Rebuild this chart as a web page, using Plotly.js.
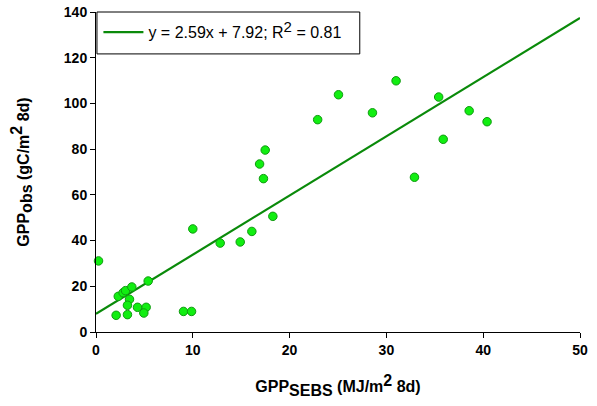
<!DOCTYPE html>
<html>
<head>
<meta charset="utf-8">
<script src="https://cdn.plot.ly/plotly-3.0.1.min.js"></script>
<style>html,body{margin:0;padding:0;background:#fff;}#chart{width:597px;height:406px;}</style>
</head>
<body>
<div id="chart"></div>
<script>
const gppSEBS = [0.26, 2.3, 2.8, 3.05, 3.7, 3.46, 3.25, 2.08, 3.25, 4.29, 5.18, 4.94, 5.39, 9.04, 9.87,
  12.83, 14.9, 17.48, 16.9, 17.3, 10.0, 16.1, 18.27, 22.9, 25.05, 28.56, 31.0, 35.4, 38.55, 40.4, 35.87, 32.9];
const gppObs = [31.1, 15.6, 17.2, 18.1, 19.7, 14.3, 11.7, 7.3, 7.6, 10.8, 10.8, 8.3, 22.3, 9.0, 9.0,
  38.9, 39.4, 79.6, 73.5, 67.1, 45.1, 44.0, 50.6, 92.9, 103.8, 95.9, 109.9, 102.8, 96.8, 92.0, 84.3, 67.7];

// Regression line parameters (from the legend)
const slope = 2.59;
const intercept = 7.92;
const r2 = 0.81;
const xRange = [0, 50];
const yRange = [0, 140];
const xTicks = [0, 10, 20, 30, 40, 50];
const yTicks = [0, 20, 40, 60, 80, 100, 120, 140];

const fitX = xRange.slice();
const fitY = fitX.map(x => slope * x + intercept);

const big = (s, n) => '<span style="font-size:' + n + 'px">' + s + '</span>';

const traces = [
  {
    x: fitX, y: fitY, mode: 'lines', type: 'scatter',
    line: {color: '#0a8a0a', width: 2.2},
    name: 'y = ' + slope.toFixed(2) + 'x + ' + intercept.toFixed(2) + '; R<sup>' + big('2', 15) + '</sup> = ' + r2.toFixed(2),
    showlegend: true, hoverinfo: 'skip'
  },
  {
    x: gppSEBS, y: gppObs, mode: 'markers', type: 'scatter',
    marker: {color: '#11ee11', size: 8.5, line: {color: '#109a10', width: 1}},
    showlegend: false, cliponaxis: false
  }
];

const fontFam = 'Liberation Sans, Arial, sans-serif';
const layout = {
  width: 597, height: 406,
  margin: {l: 96, r: 17, t: 12, b: 74},
  paper_bgcolor: '#fff', plot_bgcolor: '#fff',
  font: {family: fontFam, color: '#000'},
  showlegend: true,
  legend: {
    x: 0.005, y: 0.99, xanchor: 'left', yanchor: 'top',
    bgcolor: 'rgba(0,0,0,0)', borderwidth: 0,
    font: {family: fontFam, size: 16, color: '#000'},
    itemwidth: 40,
    valign: 'middle'
  },
  shapes: [{
    type: 'rect', xref: 'paper', yref: 'paper',
    x0: 0.002, x1: 0.545, y0: 0.869, y1: 1.0,
    line: {color: '#000', width: 1}, fillcolor: 'rgba(0,0,0,0)', layer: 'above'
  }],
  xaxis: {
    range: xRange, tickvals: xTicks, ticktext: xTicks.map(String),
    showgrid: false, zeroline: false, showline: true, linecolor: '#000', linewidth: 1,
    ticks: 'outside', ticklen: 5, tickcolor: '#000',
    tickfont: {family: fontFam, size: 14, color: '#000', weight: 'bold'},
    title: {text: '<b>GPP<sub>' + big('SEBS', 16) + '</sub> (MJ/m<sup>' + big('2', 16) + '</sup> 8d)</b>', font: {family: fontFam, size: 16, color: '#000'}, standoff: 24}
  },
  yaxis: {
    range: yRange, tickvals: yTicks, ticktext: yTicks.map(String),
    showgrid: false, zeroline: false, showline: true, linecolor: '#000', linewidth: 1,
    ticks: 'outside', ticklen: 5, tickcolor: '#000',
    tickfont: {family: fontFam, size: 14, color: '#000', weight: 'bold'},
    title: {text: '<b>GPP<sub>' + big('obs', 16) + '</sub> (gC/m<sup>' + big('2', 16) + '</sup> 8d)</b>', font: {family: fontFam, size: 16, color: '#000'}, standoff: 30}
  }
};

Plotly.newPlot('chart', traces, layout, {displayModeBar: false, staticPlot: true});
</script>
</body>
</html>
